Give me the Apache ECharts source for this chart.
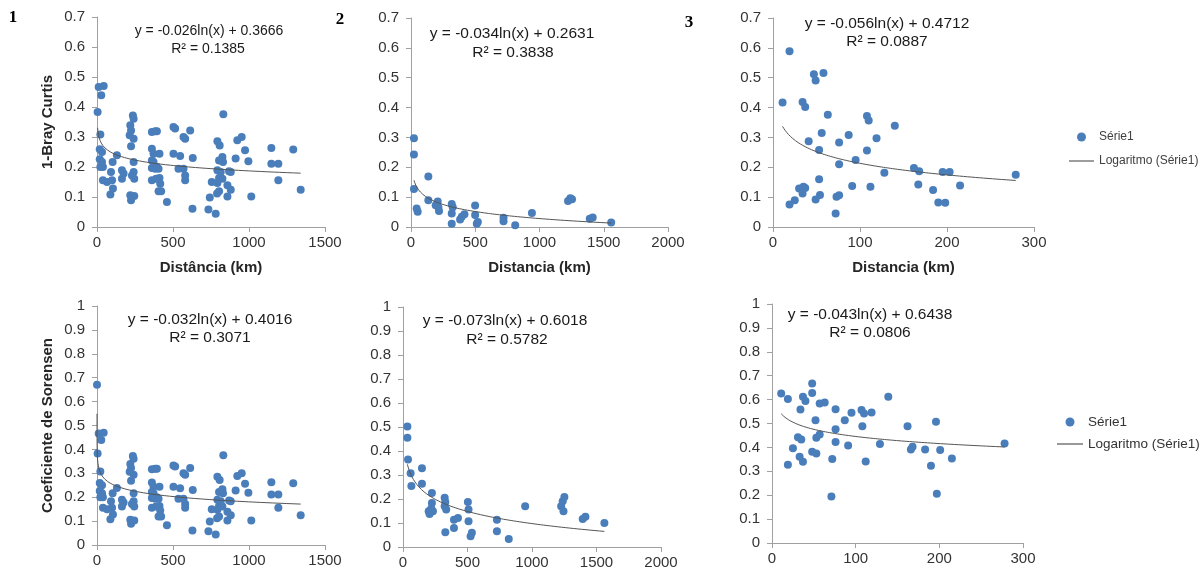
<!DOCTYPE html>
<html><head><meta charset="utf-8">
<script src="https://cdn.jsdelivr.net/npm/echarts@6/dist/echarts.min.js"></script>
<style>html,body{margin:0;padding:0;background:#fff;}#c{width:1203px;height:573px;}</style>
</head><body><div id="c"></div>
<script>
// ---------- DATA ----------
// Panel 1: 1-Bray Curtis vs Distância (km)
const p1Dist = [11,44,28,4,22,18,33,18,33,22,39,131,103,39,66,92,99,105,88,164,175,164,236,241,219,224,215,241,224,241,241,230,245,219,245,224,361,383,394,361,372,411,361,372,361,383,394,405,361,389,411,416,405,422,460,503,514,503,547,536,569,569,580,613,580,580,630,628,
  831,792,807,923,952,974,1147,1291,825,803,829,912,996,1147,1193,792,814,869,880,803,825,755,792,858,880,803,1193,742,858,1015,1340,733,781,790];
const p1Val = [0.467,0.47,0.439,0.383,0.308,0.259,0.25,0.226,0.217,0.2,0.2,0.239,0.217,0.156,0.15,0.183,0.156,0.128,0.108,0.189,0.178,0.161,0.372,0.361,0.339,0.322,0.306,0.294,0.269,0.217,0.183,0.172,0.161,0.106,0.103,0.089,0.317,0.319,0.319,0.261,0.244,0.244,0.222,0.217,0.197,0.194,0.2,0.194,0.156,0.161,0.163,0.144,0.119,0.119,0.083,0.333,0.328,0.244,0.237,0.194,0.194,0.3,0.294,0.322,0.172,0.156,0.23,0.061,
  0.376,0.286,0.272,0.289,0.3,0.256,0.263,0.258,0.233,0.222,0.217,0.228,0.219,0.211,0.211,0.189,0.183,0.186,0.183,0.163,0.161,0.15,0.147,0.139,0.124,0.119,0.156,0.098,0.102,0.102,0.124,0.058,0.044,0.112];
// Panel 2: 1-Bray Curtis vs Distancia (km)
const p2Dist = [23,23,23,135,44,52,135,208,192,213,218,317,325,317,317,382,395,416,499,499,520,512,720,720,811,941,1222,1240,1253,1391,1414,1558];
const p2Val  = [0.297,0.243,0.127,0.169,0.062,0.051,0.09,0.085,0.073,0.066,0.054,0.077,0.066,0.045,0.011,0.025,0.034,0.043,0.072,0.04,0.017,0.011,0.031,0.019,0.006,0.047,0.087,0.096,0.093,0.028,0.032,0.015];
// Panel 3: 1-Bray Curtis vs Distancia (km)
const p3Dist = [19,47,58,49,11,34,37,63,108,110,140,56,87,119,41,76,53,108,95,76,128,162,168,195,203,53,91,112,167,215,184,30,35,37,34,54,49,73,76,25,19,72,190,198,279];
const p3Val  = [0.589,0.512,0.516,0.491,0.417,0.419,0.402,0.376,0.372,0.357,0.339,0.315,0.308,0.297,0.287,0.283,0.258,0.256,0.224,0.21,0.182,0.198,0.187,0.184,0.184,0.16,0.137,0.135,0.142,0.139,0.124,0.129,0.135,0.131,0.112,0.107,0.092,0.101,0.106,0.09,0.075,0.045,0.082,0.081,0.175];
// Panel 4: Coeficiente de Sorensen (same distances as panel 1 plus one near-zero pair)
const p4Dist = p1Dist.concat([0.01]);
const p4Val  = p1Val.concat([0.67]);
// Panel 5
const p5Dist = [34,34,39,59,65,147,147,224,224,219,199,206,232,323,328,323,335,328,395,426,395,503,508,508,524,534,728,728,820,947,1226,1238,1251,1244,1393,1414,1561];
const p5Val  = [0.502,0.455,0.365,0.307,0.254,0.328,0.264,0.225,0.183,0.16,0.149,0.138,0.149,0.205,0.188,0.17,0.156,0.061,0.114,0.121,0.079,0.188,0.156,0.107,0.045,0.059,0.114,0.066,0.033,0.17,0.17,0.191,0.208,0.149,0.117,0.126,0.1];
// Panel 6
const p6Dist = [11,19,48,48,37,40,57,63,139,34,76,95,107,110,119,52,87,108,162,196,76,57,53,31,35,76,129,91,25,168,166,183,201,48,53,33,37,72,112,215,19,190,71,197,278];
const p6Val  = [0.626,0.602,0.667,0.628,0.612,0.594,0.584,0.588,0.612,0.559,0.56,0.545,0.556,0.542,0.546,0.514,0.514,0.489,0.489,0.507,0.476,0.454,0.44,0.442,0.433,0.423,0.414,0.408,0.396,0.403,0.391,0.391,0.389,0.382,0.375,0.361,0.34,0.351,0.341,0.354,0.327,0.323,0.195,0.206,0.416];

const trendSlope = [-0.026, -0.034, -0.056, -0.032, -0.073, -0.043];
const trendIntercept = [0.3666, 0.2631, 0.4712, 0.4016, 0.6018, 0.6438];
const eqLabels = ['y = -0.026ln(x) + 0.3666','y = -0.034ln(x) + 0.2631','y = -0.056ln(x) + 0.4712','y = -0.032ln(x) + 0.4016','y = -0.073ln(x) + 0.6018','y = -0.043ln(x) + 0.6438'];
const r2Labels = ['R² = 0.1385','R² = 0.3838','R² = 0.0887','R² = 0.3071','R² = 0.5782','R² = 0.0806'];
const xMaxes = [1500, 2000, 300, 1500, 2000, 300];
const xSteps = [500, 500, 100, 500, 500, 100];
const yMaxes = [0.7, 0.7, 0.7, 1, 1, 1];
const xNames = ['Distância (km)', 'Distancia (km)', 'Distancia (km)', '', '', ''];
const yNames = ['1-Bray Curtis', '', '', 'Coeficiente de Sorensen', '', ''];
const panelTags = ['1', '2', '3'];

const dists = [p1Dist, p2Dist, p3Dist, p4Dist, p5Dist, p6Dist];
const vals = [p1Val, p2Val, p3Val, p4Val, p5Val, p6Val];

// ---------- LAYOUT ----------
const grids = [
  {left:97, top:17, width:228, height:210},
  {left:411, top:18, width:257, height:209},
  {left:773, top:18, width:261, height:209},
  {left:97, top:306, width:228, height:239},
  {left:403, top:307, width:258, height:240},
  {left:772, top:304, width:251, height:239}
];
const eqPos = [[209,31,208,49,14],[512,34,513,53,15.5],[887,24,887,42,15.5],[210,320,210,338,15.5],[505,321,507,340,15.5],[870,315,870,333,15.5]];
const tagPos = [[13,18],[340,20],[689,23]];

const FONT = '"Liberation Sans", Arial, sans-serif';
const axisCol = '#a0a0a0';

const xAxis = [], yAxis = [], series = [], graphic = [];
for (let i = 0; i < 6; i++) {
  xAxis.push({
    gridIndex: i, type: 'value', min: 0, max: xMaxes[i], interval: xSteps[i],
    name: xNames[i], nameLocation: 'middle', nameGap: 33,
    nameTextStyle: {fontFamily: FONT, fontSize: 15, fontWeight: 'bold', color: '#262626'},
    axisLine: {show: true, lineStyle: {color: axisCol}},
    axisTick: {show: true, length: 5, lineStyle: {color: axisCol}},
    splitLine: {show: false},
    axisLabel: {fontFamily: FONT, fontSize: 15, color: '#333', margin: 8, formatter: v => String(v)}
  });
  yAxis.push({
    gridIndex: i, type: 'value', min: 0, max: yMaxes[i], interval: 0.1,
    name: yNames[i], nameLocation: 'middle', nameGap: 42,
    nameTextStyle: {fontFamily: FONT, fontSize: 15, fontWeight: 'bold', color: '#262626'},
    axisLine: {show: true, lineStyle: {color: axisCol}},
    axisTick: {show: true, length: 5, lineStyle: {color: axisCol}},
    splitLine: {show: false},
    axisLabel: {fontFamily: FONT, fontSize: 15, color: '#333', margin: 12, formatter: v => String(Math.round(v * 10) / 10)}
  });
  const pts = dists[i].map((d, k) => [d, vals[i][k]]);
  series.push({
    type: 'scatter', name: 'Série1', xAxisIndex: i, yAxisIndex: i,
    symbol: 'circle', symbolSize: 8, itemStyle: {color: '#4A7EBB', opacity: 1}, data: pts
  });
  // trendline from the displayed regression equation, over the data's distance range
  const lo = Math.min.apply(null, dists[i]), hi = Math.max.apply(null, dists[i]);
  const tl = [];
  const n = 160;
  for (let k = 0; k <= n; k++) {
    const x = lo * Math.pow(hi / lo, k / n);
    tl.push([x, trendSlope[i] * Math.log(x) + trendIntercept[i]]);
  }
  series.push({
    type: 'line', name: 'Logaritmo (Série1)', xAxisIndex: i, yAxisIndex: i,
    symbol: 'none', showSymbol: false, z: 3, lineStyle: {color: '#555', width: 1},
    itemStyle: {color: '#555'}, data: tl
  });
  const p = eqPos[i];
  graphic.push({type: 'text', x: p[0], y: p[1], style: {text: eqLabels[i], font: p[4] + 'px ' + FONT, fill: '#1a1a1a', textAlign: 'center', textVerticalAlign: 'middle', align: 'center', verticalAlign: 'middle'}});
  graphic.push({type: 'text', x: p[2], y: p[3], style: {text: r2Labels[i], font: p[4] + 'px ' + FONT, fill: '#1a1a1a', textAlign: 'center', textVerticalAlign: 'middle', align: 'center', verticalAlign: 'middle'}});
}
panelTags.forEach((t, i) => {
  graphic.push({type: 'text', x: tagPos[i][0], y: tagPos[i][1], style: {text: t, font: 'bold 17px "Liberation Serif", "Times New Roman", serif', fill: '#000', textAlign: 'center', textVerticalAlign: 'middle', align: 'center', verticalAlign: 'middle'}});
});

const lineIcon = 'path://M0,0L26,0L26,1.2L0,1.2Z';
const legendItems = [{name: 'Série1', icon: 'circle'}, {name: 'Logaritmo (Série1)', icon: lineIcon}];
const option = {
  animation: false,
  backgroundColor: '#fff',
  grid: grids,
  xAxis: xAxis,
  yAxis: yAxis,
  legend: [
    {orient: 'vertical', left: 1069, top: 131, padding: 0, itemWidth: 25, itemHeight: 9, itemGap: 12,
     textStyle: {fontFamily: FONT, fontSize: 12, color: '#404040'}, data: legendItems, selectedMode: false},
    {orient: 'vertical', left: 1057, top: 415, padding: 0, itemWidth: 26, itemHeight: 9, itemGap: 8,
     textStyle: {fontFamily: FONT, fontSize: 13.5, color: '#333'}, data: legendItems, selectedMode: false}
  ],
  series: series,
  graphic: graphic
};
const chart = echarts.init(document.getElementById('c'), null, {renderer: 'canvas'});
chart.setOption(option);
</script></body></html>
